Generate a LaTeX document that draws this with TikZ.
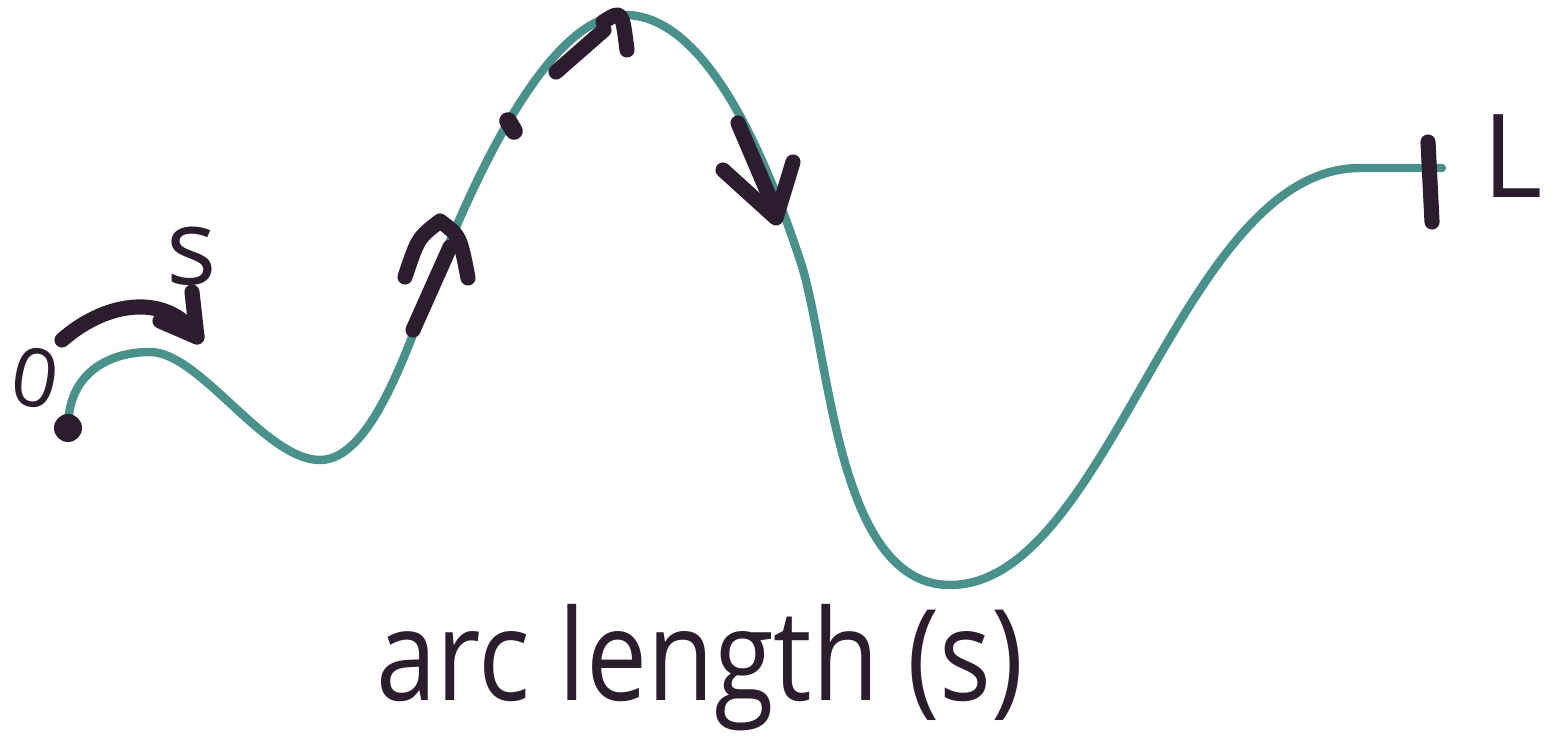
\documentclass[tikz,border=0pt]{standalone}
\usepackage{fontspec}
\setmainfont{Open Sans}
\definecolor{curvecol}{HTML}{4A918C}
\definecolor{ink}{HTML}{2B1D2E}
\begin{document}
\begin{tikzpicture}[x=0.01cm,y=-0.01cm,
  curveline/.style={draw=curvecol,line width=2.4pt,line cap=round},
  inkline/.style={draw=ink,line width=4.3pt,line cap=round,line join=round},
  lbl/.style={text=ink,font=\fontsize{30}{36}\selectfont,inner sep=0pt}]
\useasboundingbox[fill=white] (0,0) rectangle (1558,749);
% the curve
\coordinate (startpt) at (68,428);
\coordinate (endpt) at (1442,168);
\draw[curveline] (startpt) .. controls (68,372) and (110,352) .. (150,352)
  .. controls (200,352) and (265,460) .. (320,460)
  .. controls (370,460) and (405,355) .. (430,290)
  .. controls (460,215) and (540,15) .. (625,15)
  .. controls (710,15) and (770,170) .. (800,260)
  .. controls (830,350) and (835,585) .. (950,585)
  .. controls (1110,585) and (1180,168) .. (1360,168)
  -- (endpt);
% start dot
\fill[ink] (startpt) circle[radius=14];
% labels
\node[lbl,font=\fontsize{23}{28}\selectfont,rotate=-10] (zero) at (35,378) {0};
\node[lbl] (sl) at (192,256) {s};
\node[lbl,font=\fontsize{33}{38}\selectfont] (L) at (1513,156) {L};
\node[lbl,font=\fontsize{36}{42}\selectfont,xscale=0.86] (title) at (700,668) {arc length (s)};
% curved arrow near the start
\coordinate (a1s) at (62,340);
\coordinate (a1e) at (197,337);
\draw[inkline] (a1s) .. controls (110,298) and (170,295) .. (a1e);
\draw[inkline] (160,321) -- (a1e) -- (192,292);
% arrow marks along the curve
\draw[inkline] (413,330) -- (450,247);
\draw[inkline] (405,277) .. controls (418,238) .. (440,221) .. controls (460,236) .. (468,278);
\draw[inkline,line width=5pt] (508,121) -- (514,131);
\draw[inkline] (556,72) -- (604,30);
\draw[inkline] (603,22) .. controls (622,10) .. (627,50);
\draw[inkline] (738,123) -- (776,212);
\draw[inkline] (723,170) -- (776,218) -- (793,162);
% end tick
\draw[inkline] (1428,142) -- (1432,222);
\end{tikzpicture}
\end{document}
